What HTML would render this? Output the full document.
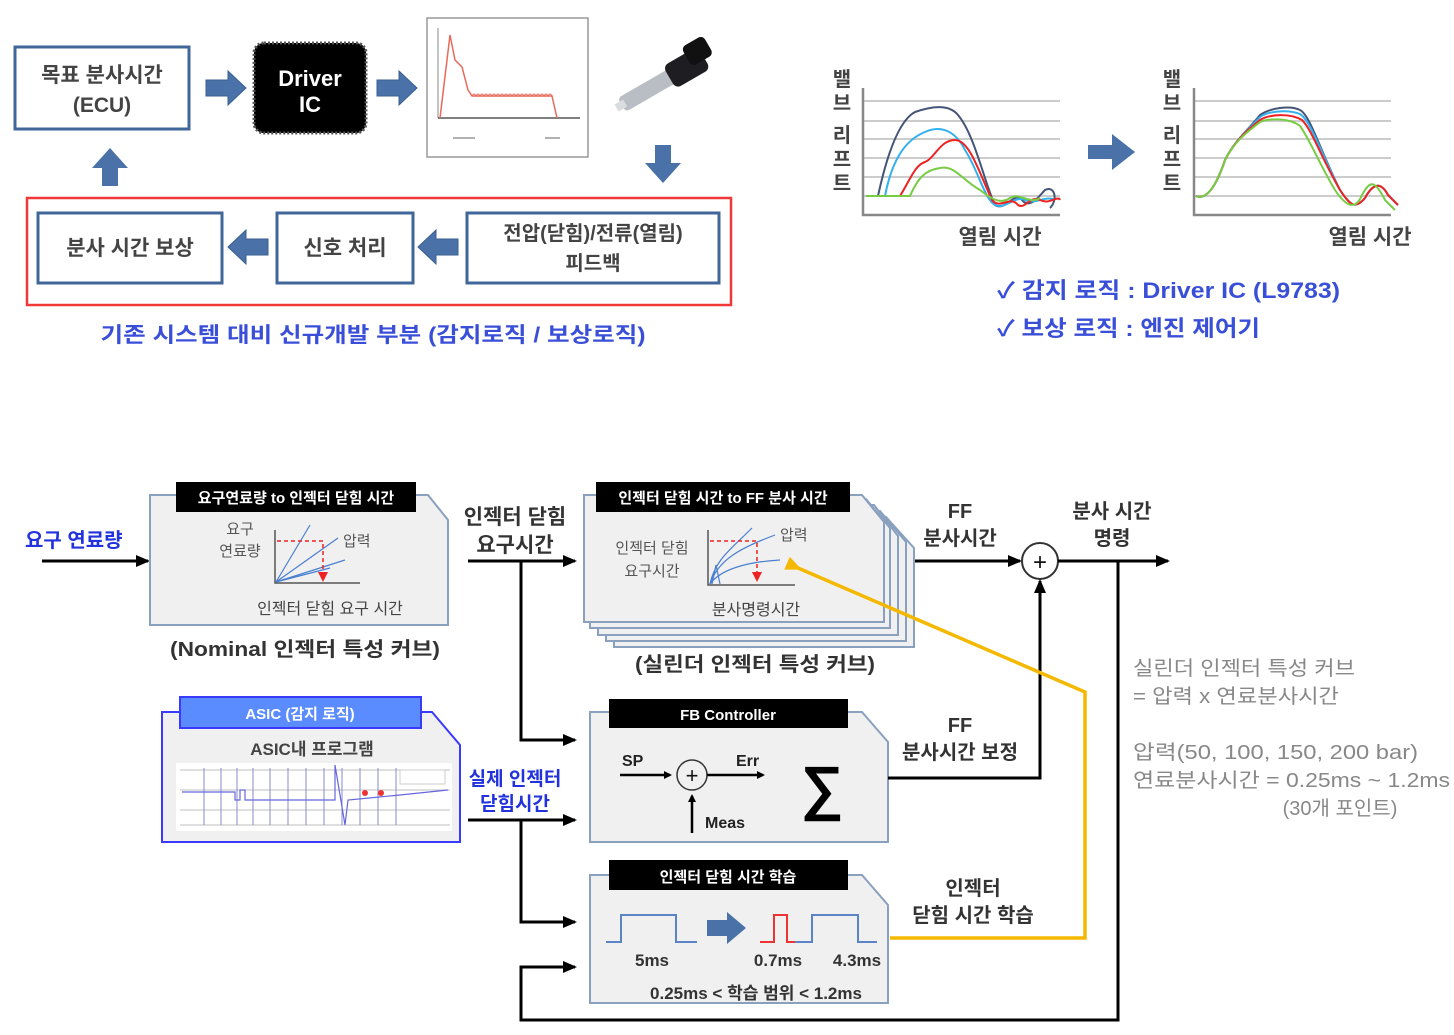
<!DOCTYPE html>
<html><head><meta charset="utf-8"><style>
body{margin:0;background:#fff;}
svg text{font-family:"Liberation Sans","Noto Sans CJK KR",sans-serif;}
</style></head><body>
<svg width="1454" height="1030" viewBox="0 0 1454 1030" xmlns="http://www.w3.org/2000/svg">
<defs>
<marker id="ah" markerWidth="8" markerHeight="8" refX="6" refY="4" orient="auto" markerUnits="userSpaceOnUse"><path d="M0,0 L8,4 L0,8 z" fill="#000"/></marker>
<marker id="ahb" markerWidth="14" markerHeight="12" refX="12" refY="6" orient="auto" markerUnits="userSpaceOnUse"><path d="M0,0 L14,6 L0,12 z" fill="#000"/></marker>
<marker id="ahy" markerWidth="16" markerHeight="14" refX="4" refY="7" orient="auto" markerUnits="userSpaceOnUse"><path d="M16,0 L0,7 L16,14 z" fill="#f5b800"/></marker>
<g id="barr"><path d="M0,-8 L22,-8 L22,-17 L40,0 L22,17 L22,8 L0,8 z" fill="#4a72a8" stroke="#3a5f90" stroke-width="1"/></g>
</defs>

<!-- TOP LEFT -->
<rect x="15" y="47" width="174" height="82" fill="#fff" stroke="#41669a" stroke-width="3"/>
<text x="102" y="82" font-size="21" font-weight="bold" text-anchor="middle" fill="#444">목표 분사시간</text>
<text x="102" y="112" font-size="21" font-weight="bold" text-anchor="middle" fill="#444">(ECU)</text>
<use href="#barr" x="206" y="88"/>
<rect x="254" y="43" width="112" height="90" rx="10" fill="#000" stroke="#555" stroke-dasharray="2 2" stroke-width="3"/>
<text x="310" y="86" font-size="22" font-weight="bold" text-anchor="middle" fill="#fff">Driver</text>
<text x="310" y="112" font-size="22" font-weight="bold" text-anchor="middle" fill="#fff">IC</text>
<use href="#barr" x="377" y="88"/>
<rect x="427" y="18" width="161" height="139" fill="#fff" stroke="#999" stroke-width="1.5"/>
<line x1="438" y1="28" x2="438" y2="118" stroke="#888"/>
<line x1="438" y1="118" x2="580" y2="118" stroke="#555" stroke-width="1.5"/>
<polyline points="440,118 450,35 455,60 462,67 468,90 472,96 552,96 557,118" fill="none" stroke="#e86a5a" stroke-width="1.5"/>
<path d="M472,96 q2,-4 4,0 q2,-4 4,0 q2,-4 4,0 q2,-4 4,0 q2,-4 4,0 q2,-4 4,0 q2,-4 4,0 q2,-4 4,0 q2,-4 4,0 q2,-4 4,0 q2,-4 4,0 q2,-4 4,0 q2,-4 4,0 q2,-4 4,0 q2,-4 4,0 q2,-4 4,0 q2,-4 4,0 q2,-4 4,0 q2,-4 4,0 q2,-4 4,0" fill="none" stroke="#e86a5a"/>
<line x1="453" y1="138" x2="475" y2="138" stroke="#666"/><line x1="545" y1="138" x2="560" y2="138" stroke="#666"/>
<g transform="translate(665,80) rotate(-30)">
<rect x="-50" y="-8" width="60" height="16" rx="4" fill="#b9bec4"/>
<rect x="-56" y="-4" width="10" height="8" fill="#d9dde0"/>
<rect x="5" y="-13" width="40" height="26" rx="6" fill="#1e1e22"/>
<rect x="30" y="-20" width="25" height="22" rx="5" fill="#111"/>
</g>
<path d="M655,145 L671,145 L671,163 L681,163 L663,183 L645,163 L655,163 z" fill="#4a72a8"/>
<path d="M102,186 L118,186 L118,168 L128,168 L110,148 L92,168 L102,168 z" fill="#4a72a8"/>
<rect x="27" y="198" width="704" height="107" fill="none" stroke="#f03838" stroke-width="2.5"/>
<rect x="38" y="213" width="184" height="70" fill="#fff" stroke="#41669a" stroke-width="3"/>
<text x="130" y="255" font-size="21" font-weight="bold" text-anchor="middle" fill="#444">분사 시간 보상</text>
<rect x="277" y="213" width="136" height="70" fill="#fff" stroke="#41669a" stroke-width="3"/>
<text x="345" y="255" font-size="21" font-weight="bold" text-anchor="middle" fill="#444">신호 처리</text>
<rect x="467" y="213" width="252" height="70" fill="#fff" stroke="#41669a" stroke-width="3"/>
<text x="593" y="240" font-size="20" font-weight="bold" text-anchor="middle" fill="#444">전압(닫힘)/전류(열림)</text>
<text x="593" y="270" font-size="20" font-weight="bold" text-anchor="middle" fill="#444">피드백</text>
<use href="#barr" transform="translate(268,247) scale(-1,1)"/>
<use href="#barr" transform="translate(458,247) scale(-1,1)"/>
<text x="373" y="342" font-size="21" font-weight="bold" text-anchor="middle" fill="#3a4fd8" textLength="545" lengthAdjust="spacingAndGlyphs">기존 시스템 대비 신규개발 부분 (감지로직 / 보상로직)</text>

<!-- TOP RIGHT charts -->
<g font-size="20" font-weight="bold" fill="#444" text-anchor="middle">
<text x="842" y="86">밸</text><text x="842" y="110">브</text><text x="842" y="142">리</text><text x="842" y="166">프</text><text x="842" y="190">트</text>
<text x="1172" y="86">밸</text><text x="1172" y="110">브</text><text x="1172" y="142">리</text><text x="1172" y="166">프</text><text x="1172" y="190">트</text>
</g>
<g stroke="#ccc" stroke-width="2">
<line x1="862" y1="101" x2="1060" y2="101"/><line x1="862" y1="121" x2="1060" y2="121"/><line x1="862" y1="139" x2="1060" y2="139"/><line x1="862" y1="158" x2="1060" y2="158"/><line x1="862" y1="177" x2="1060" y2="177"/><line x1="862" y1="196" x2="1060" y2="196"/>
<line x1="1193" y1="101" x2="1391" y2="101"/><line x1="1193" y1="121" x2="1391" y2="121"/><line x1="1193" y1="139" x2="1391" y2="139"/><line x1="1193" y1="158" x2="1391" y2="158"/><line x1="1193" y1="177" x2="1391" y2="177"/><line x1="1193" y1="196" x2="1391" y2="196"/>
</g>
<g stroke="#888" stroke-width="2.5" fill="none">
<polyline points="863,88 863,215 1060,215"/><polyline points="1194,88 1194,215 1391,215"/>
</g>
<g fill="none" stroke-width="2">
<path d="M866,196 L878,196 C888,150 900,120 915,112 C935,105 950,105 958,115 C975,135 985,185 995,205 C1005,212 1015,190 1022,200 C1030,210 1040,195 1045,190 C1055,185 1058,200 1050,208" stroke="#445577"/>
<path d="M866,196 L885,196 C892,160 905,140 925,132 C940,125 955,130 965,150 C978,170 985,200 995,205 C1005,210 1015,195 1025,200 C1035,205 1045,195 1055,200" stroke="#33b0ee"/>
<path d="M866,196 L900,196 C910,180 915,165 925,162 C935,158 940,140 955,140 C970,140 980,175 992,200 C1000,210 1010,195 1018,205 C1025,210 1030,195 1040,200 C1050,205 1058,195 1060,200" stroke="#ee2222"/>
<path d="M866,196 L910,196 C918,178 925,170 940,168 C955,165 962,180 980,190 C990,198 1000,205 1010,198 C1020,192 1030,205 1040,198" stroke="#77cc44"/>
<path d="M1196,196 C1205,200 1215,190 1225,160 C1235,140 1250,128 1260,115 C1270,108 1290,105 1300,110 C1310,115 1320,150 1340,190 C1350,205 1355,210 1365,198 C1372,185 1380,180 1388,195 L1398,205" stroke="#445577"/>
<path d="M1196,196 C1205,200 1215,190 1225,160 C1235,140 1250,128 1260,117 C1270,110 1290,110 1300,114 C1310,120 1320,150 1340,190 C1350,205 1355,210 1365,198 C1372,185 1380,180 1388,195 L1398,205" stroke="#33b0ee"/>
<path d="M1196,196 C1205,200 1215,190 1225,160 C1235,140 1250,128 1260,120 C1270,114 1290,113 1302,120 C1312,130 1320,155 1340,190 C1350,205 1355,210 1365,198 C1372,185 1380,180 1388,195 L1398,205" stroke="#ee2222"/>
<path d="M1196,196 C1205,200 1215,190 1225,160 C1235,140 1250,130 1260,122 C1270,118 1290,118 1300,126 C1310,140 1320,165 1335,190 C1345,205 1355,212 1362,195 C1370,180 1375,180 1385,200 L1395,210" stroke="#77cc44"/>
</g>
<path d="M1088,145 L1112,145 L1112,134 L1135,152 L1112,170 L1112,159 L1088,159 z" fill="#4a72a8"/>
<text x="1000" y="244" font-size="21" font-weight="bold" text-anchor="middle" fill="#444">열림 시간</text>
<text x="1370" y="244" font-size="21" font-weight="bold" text-anchor="middle" fill="#444">열림 시간</text>
<text x="997" y="298" font-size="22" font-weight="bold" fill="#3a4fd8" textLength="343" lengthAdjust="spacingAndGlyphs">✓ 감지 로직 : Driver IC (L9783)</text>
<text x="997" y="336" font-size="22" font-weight="bold" fill="#3a4fd8" textLength="263" lengthAdjust="spacingAndGlyphs">✓ 보상 로직 : 엔진 제어기</text>

<!-- BOTTOM -->
<text x="25" y="547" font-size="20" font-weight="bold" fill="#2233dd">요구 연료량</text>
<line x1="42" y1="561" x2="148" y2="561" stroke="#000" stroke-width="3" marker-end="url(#ahb)"/>

<path d="M150,495 L428,495 L448,520 L448,625 L150,625 z" fill="#f0f0f0" stroke="#8aa0bf" stroke-width="2"/>
<rect x="176" y="482" width="240" height="30" fill="#000"/>
<text x="296" y="503" font-size="15" font-weight="bold" text-anchor="middle" fill="#fff">요구연료량 to 인젝터 닫힘 시간</text>
<text x="240" y="534" font-size="15" text-anchor="middle" fill="#555">요구</text>
<text x="240" y="556" font-size="15" text-anchor="middle" fill="#555">연료량</text>
<polyline points="275,530 275,583 360,583" fill="none" stroke="#555" stroke-width="1.5"/>
<g stroke="#4a7fd0" stroke-width="1.2"><line x1="276" y1="582" x2="310" y2="525"/><line x1="276" y1="582" x2="338" y2="538"/><line x1="276" y1="582" x2="345" y2="560"/><line x1="276" y1="582" x2="330" y2="568"/></g>
<polyline points="277,541 323,541 323,578" fill="none" stroke="#e22" stroke-dasharray="4 3" stroke-width="1.5"/>
<path d="M318,572 L328,572 L323,582 z" fill="#e22"/>
<text x="343" y="546" font-size="15" fill="#555">압력</text>
<text x="330" y="614" font-size="16" text-anchor="middle" fill="#444">인젝터 닫힘 요구 시간</text>
<text x="305" y="656" font-size="20" font-weight="bold" text-anchor="middle" fill="#333" textLength="270" lengthAdjust="spacingAndGlyphs">(Nominal 인젝터 특성 커브)</text>

<g fill="#f0f0f0" stroke="#8aa0bf" stroke-width="2">
<path d="M614,517 L886,517 L914,548 L914,647 L614,647 z"/>
<path d="M606,511 L880,511 L906,542 L906,641 L606,641 z"/>
<path d="M598,505 L874,505 L898,536 L898,635 L598,635 z"/>
<path d="M590,499 L866,499 L890,528 L890,628 L590,628 z"/>
<path d="M584,495 L862,495 L884,522 L884,622 L584,622 z"/>
</g>
<rect x="596" y="482" width="254" height="30" fill="#000"/>
<text x="723" y="503" font-size="15" font-weight="bold" text-anchor="middle" fill="#fff">인젝터 닫힘 시간 to FF 분사 시간</text>
<text x="652" y="553" font-size="15" text-anchor="middle" fill="#555">인젝터 닫힘</text>
<text x="652" y="576" font-size="15" text-anchor="middle" fill="#555">요구시간</text>
<polyline points="708,530 708,585 795,585" fill="none" stroke="#555" stroke-width="1.5"/>
<g stroke="#4a7fd0" stroke-width="1.2" fill="none"><path d="M710,584 C715,560 730,550 752,528"/><path d="M710,584 C718,560 740,548 775,535"/><path d="M710,584 C720,570 745,562 780,560"/><path d="M712,584 L716,565 L720,584"/></g>
<polyline points="710,541 757,541 757,578" fill="none" stroke="#e22" stroke-dasharray="4 3" stroke-width="1.5"/>
<path d="M752,572 L762,572 L757,582 z" fill="#e22"/>
<text x="780" y="540" font-size="15" fill="#555">압력</text>
<text x="756" y="615" font-size="16" text-anchor="middle" fill="#444">분사명령시간</text>
<text x="755" y="671" font-size="20" font-weight="bold" text-anchor="middle" fill="#333" textLength="240" lengthAdjust="spacingAndGlyphs">(실린더 인젝터 특성 커브)</text>

<text x="515" y="524" font-size="21" font-weight="bold" text-anchor="middle" fill="#333">인젝터 닫힘</text>
<text x="515" y="552" font-size="21" font-weight="bold" text-anchor="middle" fill="#333">요구시간</text>
<line x1="468" y1="561" x2="575" y2="561" stroke="#000" stroke-width="3" marker-end="url(#ahb)"/>
<polyline points="521,561 521,740 575,740" fill="none" stroke="#000" stroke-width="3" marker-end="url(#ahb)"/>
<text x="515" y="785" font-size="19" font-weight="bold" text-anchor="middle" fill="#2233dd">실제 인젝터</text>
<text x="515" y="810" font-size="19" font-weight="bold" text-anchor="middle" fill="#2233dd">닫힘시간</text>
<line x1="468" y1="820" x2="575" y2="820" stroke="#000" stroke-width="3" marker-end="url(#ahb)"/>
<polyline points="521,820 521,922 575,922" fill="none" stroke="#000" stroke-width="3" marker-end="url(#ahb)"/>

<path d="M162,712 L432,712 L460,745 L460,842 L162,842 z" fill="#f0f0f0" stroke="#3a3aff" stroke-width="2"/>
<rect x="180" y="697" width="241" height="31" fill="#5b8cff" stroke="#3a3aff" stroke-width="2"/>
<text x="300" y="719" font-size="15" font-weight="bold" text-anchor="middle" fill="#fff">ASIC (감지 로직)</text>
<text x="312" y="755" font-size="17" font-weight="bold" text-anchor="middle" fill="#444">ASIC내 프로그램</text>
<rect x="176" y="763" width="276" height="68" fill="#fff"/>
<g stroke="#aaa" stroke-width="0.8">
<line x1="180" y1="770" x2="450" y2="770"/><line x1="180" y1="790" x2="450" y2="790"/><line x1="180" y1="810" x2="450" y2="810"/><line x1="180" y1="825" x2="450" y2="825"/>
</g>
<g stroke="#8888cc" stroke-width="1">
<line x1="204" y1="768" x2="204" y2="825"/><line x1="221" y1="768" x2="221" y2="825"/><line x1="237" y1="768" x2="237" y2="825"/><line x1="253" y1="768" x2="253" y2="825"/><line x1="270" y1="768" x2="270" y2="825"/><line x1="288" y1="768" x2="288" y2="825"/><line x1="306" y1="768" x2="306" y2="825"/><line x1="324" y1="768" x2="324" y2="825"/><line x1="342" y1="768" x2="342" y2="825"/><line x1="360" y1="768" x2="360" y2="825"/><line x1="378" y1="768" x2="378" y2="825"/><line x1="396" y1="768" x2="396" y2="825"/>
</g>
<polyline points="182,792 235,792 235,800 240,800 240,790 245,790 245,800 335,800 335,765 345,825 348,800 400,795 448,790" fill="none" stroke="#6666dd" stroke-width="1.2"/>
<circle cx="365" cy="793" r="3" fill="#e33"/><circle cx="381" cy="793" r="3" fill="#e33"/>
<rect x="400" y="770" width="45" height="14" fill="#fff" stroke="#ccc"/>

<path d="M590,712 L862,712 L888,742 L888,842 L590,842 z" fill="#f0f0f0" stroke="#8aa0bf" stroke-width="2"/>
<rect x="609" y="699" width="239" height="29" fill="#000"/>
<text x="728" y="720" font-size="15" font-weight="bold" text-anchor="middle" fill="#fff">FB Controller</text>
<text x="622" y="766" font-size="16" font-weight="bold" fill="#222">SP</text>
<line x1="620" y1="775" x2="670" y2="775" stroke="#000" stroke-width="2.5" marker-end="url(#ah)"/>
<circle cx="692" cy="775" r="15" fill="none" stroke="#333" stroke-width="1.5"/>
<text x="692" y="783" font-size="22" text-anchor="middle" fill="#111">+</text>
<line x1="707" y1="775" x2="763" y2="775" stroke="#000" stroke-width="2.5" marker-end="url(#ah)"/>
<text x="736" y="766" font-size="16" font-weight="bold" fill="#222">Err</text>
<line x1="692" y1="833" x2="692" y2="796" stroke="#000" stroke-width="2.5" marker-end="url(#ah)"/>
<text x="705" y="828" font-size="16" font-weight="bold" fill="#222">Meas</text>
<text x="822" y="808" font-size="60" font-weight="bold" text-anchor="middle" fill="#000">∑</text>

<path d="M590,875 L862,875 L888,905 L888,1003 L590,1003 z" fill="#f0f0f0" stroke="#8aa0bf" stroke-width="2"/>
<rect x="609" y="860" width="239" height="30" fill="#000"/>
<text x="728" y="882" font-size="15" font-weight="bold" text-anchor="middle" fill="#fff">인젝터 닫힘 시간 학습</text>
<polyline points="606,942 621,942 621,915 676,915 676,942 697,942" fill="none" stroke="#5a84c6" stroke-width="2"/>
<path d="M707,920 L727,920 L727,912 L746,928 L727,944 L727,936 L707,936 z" fill="#4a72a8"/>
<polyline points="760,942 774,942 774,915 787,915 787,942 795,942" fill="none" stroke="#e33" stroke-width="2"/>
<polyline points="795,942 812,942 812,915 858,915 858,942 877,942" fill="none" stroke="#5a84c6" stroke-width="2"/>
<text x="652" y="966" font-size="17" font-weight="bold" text-anchor="middle" fill="#333">5ms</text>
<text x="778" y="966" font-size="17" font-weight="bold" text-anchor="middle" fill="#333">0.7ms</text>
<text x="857" y="966" font-size="17" font-weight="bold" text-anchor="middle" fill="#333">4.3ms</text>
<text x="756" y="999" font-size="17" font-weight="bold" text-anchor="middle" fill="#333">0.25ms &lt; 학습 범위 &lt; 1.2ms</text>

<text x="960" y="518" font-size="20" font-weight="bold" text-anchor="middle" fill="#333">FF</text>
<text x="960" y="545" font-size="20" font-weight="bold" text-anchor="middle" fill="#333">분사시간</text>
<line x1="915" y1="561" x2="1020" y2="561" stroke="#000" stroke-width="3" marker-end="url(#ahb)"/>
<circle cx="1040" cy="561" r="18" fill="#fff" stroke="#333" stroke-width="2"/>
<text x="1040" y="570" font-size="24" text-anchor="middle" fill="#111">+</text>
<line x1="1058" y1="561" x2="1168" y2="561" stroke="#000" stroke-width="3" marker-end="url(#ahb)"/>
<text x="1112" y="518" font-size="20" font-weight="bold" text-anchor="middle" fill="#333">분사 시간</text>
<text x="1112" y="545" font-size="20" font-weight="bold" text-anchor="middle" fill="#333">명령</text>
<polyline points="888,778 1040,778 1040,581" fill="none" stroke="#000" stroke-width="3" marker-end="url(#ahb)"/>
<text x="960" y="732" font-size="20" font-weight="bold" text-anchor="middle" fill="#333">FF</text>
<text x="960" y="759" font-size="20" font-weight="bold" text-anchor="middle" fill="#333">분사시간 보정</text>
<polyline points="1118,561 1118,1020 521,1020 521,967 575,967" fill="none" stroke="#000" stroke-width="3" marker-end="url(#ahb)"/>
<text x="973" y="895" font-size="20" font-weight="bold" text-anchor="middle" fill="#333">인젝터</text>
<text x="973" y="922" font-size="20" font-weight="bold" text-anchor="middle" fill="#333">닫힘 시간 학습</text>
<polyline points="890,938 1085,938 1085,692 798,568" fill="none" stroke="#f5b800" stroke-width="3.5" marker-end="url(#ahy)"/>

<g font-size="20" fill="#888">
<text x="1133" y="675" textLength="222" lengthAdjust="spacingAndGlyphs">실린더 인젝터 특성 커브</text>
<text x="1133" y="703" textLength="206" lengthAdjust="spacingAndGlyphs">= 압력 x 연료분사시간</text>
<text x="1133" y="759" textLength="285" lengthAdjust="spacingAndGlyphs">압력(50, 100, 150, 200 bar)</text>
<text x="1133" y="787" textLength="317" lengthAdjust="spacingAndGlyphs">연료분사시간 = 0.25ms ~ 1.2ms</text>
<text x="1340" y="815" text-anchor="middle">(30개 포인트)</text>
</g>
</svg>
</body></html>
